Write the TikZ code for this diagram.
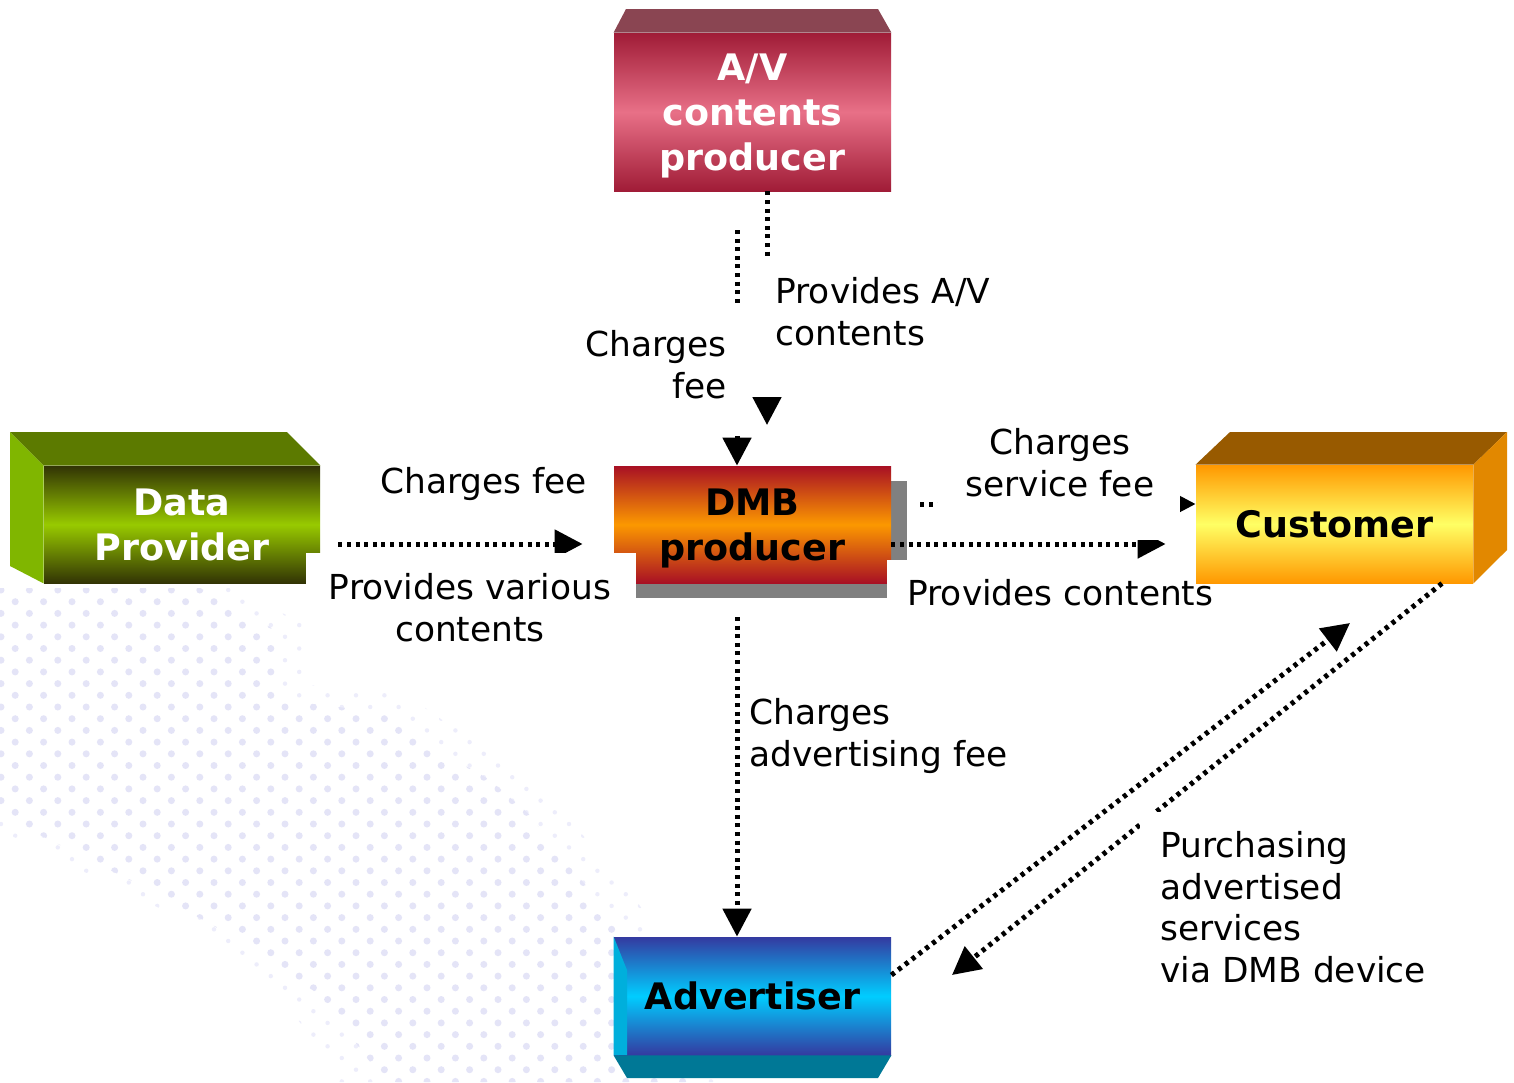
\documentclass[tikz,border=0pt]{standalone}
\usepackage{fontspec}
\setmainfont{DejaVu Sans}
\usetikzlibrary{arrows.meta,shadings}

\definecolor{avTop}{RGB}{138,69,82}
\definecolor{avDark}{RGB}{160,28,55}
\definecolor{avLight}{RGB}{232,112,135}
\definecolor{dpTop}{RGB}{92,122,0}
\definecolor{dpSide}{RGB}{128,182,0}
\definecolor{dpDark}{RGB}{50,52,5}
\definecolor{dpLight}{RGB}{152,202,0}
\definecolor{dmbDark}{RGB}{168,16,36}
\definecolor{dmbLight}{RGB}{252,152,0}
\definecolor{cuTop}{RGB}{152,90,0}
\definecolor{cuSide}{RGB}{226,136,0}
\definecolor{cuDark}{RGB}{255,152,0}
\definecolor{cuLight}{RGB}{255,255,100}
\definecolor{adDark}{RGB}{52,58,160}
\definecolor{adLight}{RGB}{0,205,255}
\definecolor{adSide}{RGB}{0,175,220}
\definecolor{adBottom}{RGB}{0,120,150}
\definecolor{shadowGray}{RGB}{128,128,128}
\definecolor{bgDot}{RGB}{228,228,247}
\definecolor{bgDotFaint}{RGB}{237,237,251}

\tikzset{
  box/.style={inner sep=0pt, minimum width=138.5pt, align=center, text depth=0pt,
    font=\bfseries\fontsize{18.25}{22.5}\selectfont},
  lbl/.style={inner sep=0pt, font=\fontsize{17.2}{20.8}\selectfont},
  flowline/.style={line width=2.5pt, dash pattern=on 2pt off 2.3pt},
  flow/.style={flowline, -{Triangle[length=14pt,width=14pt]}},
  cover/.style={fill=white}
}

% staggered grid of dots: #1 colour, #2 radius
\newcommand\dotgrid[2]{%
  \foreach \r in {0,...,43}{
    \pgfmathsetmacro\yy{590+\r*11.7}
    \pgfmathsetmacro\off{mod(\r,2)*14.2}
    \foreach \c in {0,...,25}{
      \fill[#1] (\c*28.4+\off+1,\yy) circle[radius=#2];
    }
  }%
}

\begin{document}
\begin{tikzpicture}[x=0.5pt,y=-0.5pt]
\useasboundingbox (0,0) rectangle (1514,1082);
\fill[white] (0,0) rectangle (1514,1082);

% faint dotted backdrop, smaller dots towards its edges
\begin{scope}
\clip (0,588) -- (235,588) -- (305,625) -- (305,685) -- (400,690) -- (445,722)
  -- (515,760) -- (555,793) -- (578,830) -- (612,867) -- (645,913) -- (700,980)
  -- (720,1082) -- (335,1082) -- (330,1060) -- (270,985) -- (180,918)
  -- (70,865) -- (0,830) -- cycle;
\dotgrid{bgDotFaint}{1.1pt}
\end{scope}
\begin{scope}
\clip (0,588) -- (200,588) -- (275,630) -- (280,700) -- (380,712) -- (425,742)
  -- (490,780) -- (530,815) -- (555,850) -- (590,890) -- (620,935) -- (670,995)
  -- (690,1082) -- (385,1082) -- (320,995) -- (230,935) -- (140,885)
  -- (40,835) -- (0,810) -- cycle;
\dotgrid{bgDot}{1.75pt}
\end{scope}

% A/V contents producer
\node[box, minimum height=79pt, top color=avDark, bottom color=avDark,
  middle color=avLight, text=white] (av) at (752.5,112) {A/V\\contents\\producer};
\fill[avTop] (av.north west) -- (626,9) -- (878,9) -- (av.north east) -- cycle;

% DMB producer with its drop shadow
\fill[shadowGray] (630,481) rectangle (907,598);
\node[box, minimum height=58.5pt, top color=dmbDark, bottom color=dmbDark,
  middle color=dmbLight, text=black] (dmb) at (752.5,524.5) {DMB\\producer};

% Data Provider
\node[box, minimum width=138pt, minimum height=58.5pt, top color=dpDark,
  bottom color=dpDark, middle color=dpLight, text=white] (dp) at (182,524.5) {Data\\Provider};
\fill[dpTop] (10,432) -- (287,432) -- (dp.north east) -- (dp.north west) -- cycle;
\fill[dpSide] (10,432) -- (dp.north west) -- (dp.south west) -- (10,566) -- cycle;

% Customer
\node[box, minimum height=59pt, top color=cuDark, bottom color=cuDark,
  middle color=cuLight, text=black] (cust) at (1334.5,524) {Customer};
\fill[cuTop] (cust.north west) -- (1230,432) -- (1507,432) -- (cust.north east) -- cycle;
\fill[cuSide] (cust.north east) -- (1507,432) -- (1507,550) -- (cust.south east) -- cycle;

% Advertiser
\node[box, minimum height=59pt, top color=adDark, bottom color=adDark,
  middle color=adLight, text=black] (adv) at (752.5,996) {Advertiser};
\fill[adSide] (adv.north west) -- (627,970) -- (627,1055) -- (adv.south west) -- cycle;
\fill[adBottom] (adv.south west) -- (adv.south east) -- (878,1078) -- (627,1078) -- cycle;

% connector end points
\coordinate (e1) at (767,425);
\coordinate (s2) at (737,230);
\coordinate (y544) at (0,544);
\coordinate (y504) at (0,504);
\coordinate (s6) at (737,617);
\coordinate (y975) at (0,975);
\coordinate (e7) at (1350,623);
\coordinate (x1442) at (1442,0);
\coordinate (e8) at (952,975);

% connectors
\draw[flow] (av.south -| e1) -- (e1);
\draw[flow] (s2) -- (s2 |- dmb.north);
\draw[flow, shorten <=9pt, shorten >=15.5pt] (dp.east |- y544) -- (dmb.west |- y544);
\draw[flow, shorten >=15pt] (dmb.east |- y544) -- (cust.west |- y544);
\draw[flow, shorten <=14.5pt] (dmb.east |- y504) -- (cust.west |- y504);
\draw[flow] (s6) -- (adv.north -| s6);
\draw[flow] (adv.east |- y975) -- (e7);
\draw[flow] (cust.south -| x1442) -- (e8);

% white text-box backgrounds
\fill[cover] (755,257) rectangle (1000,397);
\fill[cover] (580,305) rectangle (745,436);
\fill[cover] (306,553) rectangle (636,660);
\fill[cover] (938,415) rectangle (1180,540);
\fill[cover] (887,560) rectangle (1190,625);
\fill[cover] (1140,812) rectangle (1440,1000);

% labels
\node[lbl, anchor=north west, align=left] (lAV) at (775,277) {Provides A/V\\contents};
\node[lbl, anchor=north east, align=right] (lCF) at (727,330) {Charges\\fee};
\node[lbl, anchor=north west] (lDPf) at (380,467) {Charges fee};
\node[lbl, anchor=north, align=center] (lDPc) at (470,573) {Provides various\\contents};
\node[lbl, anchor=north, align=center] (lSF) at (1060,428) {Charges\\service fee};
\node[lbl, anchor=north west] (lPC) at (907,579) {Provides contents};
\node[lbl, anchor=north west, align=left] (lAF) at (749,698) {Charges\\advertising fee};
\node[lbl, anchor=north west, align=left] (lPU) at (1160,831) {Purchasing\\advertised\\services\\via DMB device};
\end{tikzpicture}
\end{document}
